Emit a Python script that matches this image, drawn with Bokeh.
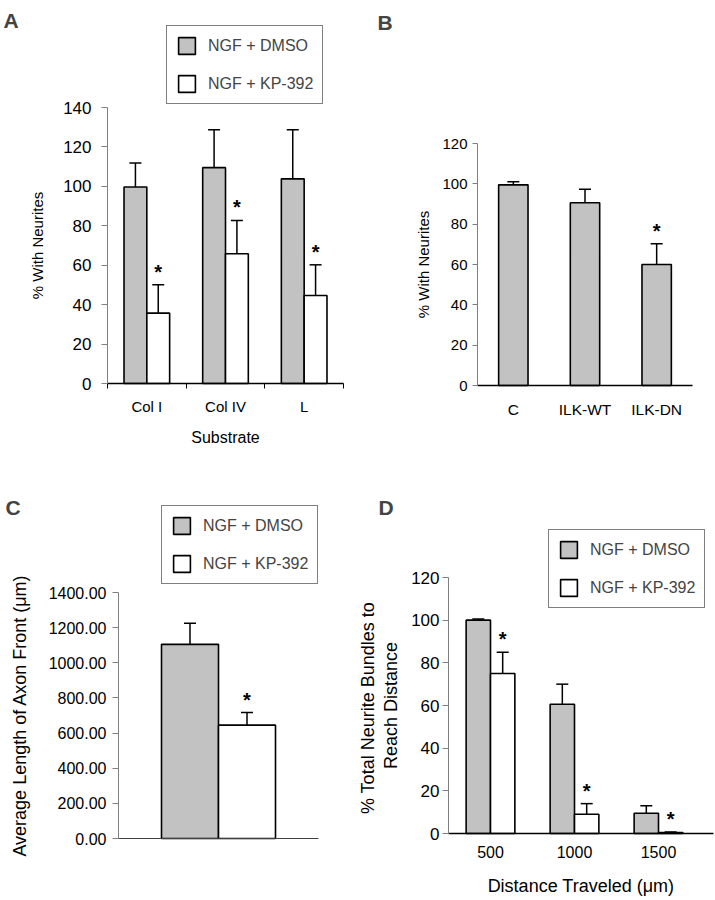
from bokeh.plotting import figure
from bokeh.models import (ColumnDataSource, Range1d, FixedTicker, Whisker, TeeHead,
                          Legend, LegendItem, Label, NumeralTickFormatter)
from bokeh.layouts import column, row
from bokeh.embed import file_html
from bokeh.resources import INLINE
from bokeh.core.properties import value

# ---------------- data ----------------
# Panel A
a_substrates = ["Col I", "Col IV", "L"]
a_dmso = [99.7, 109.5, 103.8]
a_dmso_err = [12.1, 19.2, 24.9]
a_kp = [35.7, 65.8, 44.6]
a_kp_err = [14.4, 16.9, 15.6]
a_yticks = [0, 20, 40, 60, 80, 100, 120, 140]

# Panel B
b_groups = ["C", "ILK-WT", "ILK-DN"]
b_vals = [99.5, 90.6, 60.0]
b_err = [1.5, 6.7, 10.3]
b_sig = [False, False, True]
b_yticks = [0, 20, 40, 60, 80, 100, 120]

# Panel C
c_dmso = [1105.0]
c_dmso_err = [120.0]
c_kp = [645.0]
c_kp_err = [72.0]
c_yticks = [0, 200, 400, 600, 800, 1000, 1200, 1400]

# Panel D
d_distances = ["500", "1000", "1500"]
d_dmso = [100.0, 60.6, 9.5]
d_dmso_err = [0.5, 9.4, 3.5]
d_kp = [75.0, 9.0, 0.5]
d_kp_err = [10.0, 5.0, 0.2]
d_yticks = [0, 20, 40, 60, 80, 100, 120]

legend_labels = ["NGF + DMSO", "NGF + KP-392"]

FONT = "Liberation Sans"
GRAY = "#c2c2c2"


def make_fig(w, h, box, xlim, ylim):
    """box = (left, right, top, bottom) of the plotting area in figure pixels;
    the frame covers the whole figure and the ranges are widened to match."""
    left, right, top, bottom = box
    x0, x1 = xlim
    y0, y1 = ylim
    sx = (x1 - x0) / (right - left)
    sy = (y1 - y0) / (bottom - top)
    xr = Range1d(x0 - left * sx, x1 + (w - right) * sx)
    yr = Range1d(y0 - (h - bottom) * sy, y1 + top * sy)
    p = figure(width=w, height=h, x_range=xr, y_range=yr, title=None,
               output_backend="svg", toolbar_location=None,
               min_border=0, min_border_left=0, min_border_right=0,
               min_border_top=0, min_border_bottom=0)
    p.xgrid.visible = False
    p.ygrid.visible = False
    p.outline_line_color = None
    p.background_fill_color = "white"
    p.border_fill_color = "white"
    for ax in (p.xaxis[0], p.yaxis[0]):
        ax.major_label_text_font = FONT
        ax.axis_label_text_font = FONT
        ax.axis_label_text_font_style = "normal"
        ax.major_label_text_color = "black"
        ax.axis_label_text_color = "black"
        ax.minor_tick_line_color = None
        ax.major_tick_in = 0
    ya = p.yaxis[0]
    ya.fixed_location = x0
    ya.bounds = (y0, y1)
    ya.axis_line_color = "#808080"
    ya.major_tick_line_color = "#808080"
    ya.major_tick_out = 6
    ya.major_label_standoff = 4
    xa = p.xaxis[0]
    xa.fixed_location = y0
    xa.bounds = (x0, x1)
    xa.axis_line_color = "black"
    xa.axis_line_width = 1.5
    xa.major_tick_out = 0
    xa.major_tick_line_color = None
    return p


def bars(p, xc, vals, errs, color, w):
    src = ColumnDataSource(dict(x=xc, top=vals, upper=[v + e for v, e in zip(vals, errs)]))
    r = p.vbar(x="x", top="top", bottom=0, width=w, source=src,
               fill_color=color, line_color="black", line_width=1.6)
    wh = Whisker(base="x", lower="top", upper="upper", source=src,
                 lower_head=None, line_color="black", line_width=1.5,
                 upper_head=TeeHead(size=12, line_color="black", line_width=1.5),
                 level="glyph")
    p.add_layout(wh)
    return r


def stars(p, xs, ys):
    p.text(x=xs, y=ys, text=["*"] * len(xs), text_font=value(FONT),
           text_font_style="bold", text_font_size="20px", text_align="center",
           text_baseline="alphabetic", y_offset=-13, text_color="black")


def add_legend(p, r1, r2, loc):
    lg = Legend(items=[LegendItem(label=legend_labels[0], renderers=[r1]),
                       LegendItem(label=legend_labels[1], renderers=[r2])],
                location=loc, glyph_width=21, glyph_height=21, padding=9,
                spacing=17, label_standoff=11, margin=0,
                border_line_color="black", border_line_width=1.5,
                label_text_font=FONT, label_text_font_size="16px",
                background_fill_alpha=1.0)
    p.add_layout(lg, "center")


def letter(p, txt, x, y):
    p.add_layout(Label(x=x, y=y, x_units="screen", y_units="screen", text=txt,
                       text_font=FONT, text_font_style="bold", text_font_size="21px",
                       text_baseline="alphabetic"))


# ---------------- Panel A ----------------
pA = make_fig(357, 450, (107, 343, 107, 383), (0, 3), (0, 140))
wA = 0.29
xcA = [i + 0.5 for i in range(len(a_substrates))]
rA1 = bars(pA, [x - wA / 2 for x in xcA], a_dmso, a_dmso_err, GRAY, wA)
rA2 = bars(pA, [x + wA / 2 for x in xcA], a_kp, a_kp_err, "white", wA)
stars(pA, [x + wA / 2 for x in xcA], [v + e for v, e in zip(a_kp, a_kp_err)])
pA.yaxis.ticker = FixedTicker(ticks=a_yticks)
pA.yaxis.major_label_text_font_size = "17px"
pA.yaxis.major_label_standoff = 10
pA.yaxis.axis_label = "% With Neurites"
pA.yaxis.axis_label_text_font_size = "15px"
pA.yaxis.axis_label_standoff = 14
pA.xaxis.ticker = FixedTicker(ticks=xcA, minor_ticks=list(range(len(a_substrates) + 1)))
pA.xaxis.minor_tick_line_color = "black"
pA.xaxis.minor_tick_out = 5
pA.xaxis.minor_tick_in = 0
pA.xaxis.major_label_overrides = {x: s for x, s in zip(xcA, a_substrates)}
pA.xaxis.major_label_text_font_size = "15px"
pA.xaxis.major_label_standoff = 9
pA.xaxis.axis_label = "Substrate"
pA.xaxis.axis_label_text_font_size = "16px"
pA.xaxis.axis_label_standoff = 11
add_legend(pA, rA1, rA2, (166, 346))
letter(pA, "A", 3, 430)

# ---------------- Panel B ----------------
pB = make_fig(358, 450, (120, 335, 143, 385), (0, 3), (0, 120))
wB = 0.41
xcB = [i + 0.5 for i in range(len(b_groups))]
bars(pB, xcB, b_vals, b_err, GRAY, wB)
sig_x = [x for x, s in zip(xcB, b_sig) if s]
sig_y = [v + e for v, e, s in zip(b_vals, b_err, b_sig) if s]
stars(pB, sig_x, sig_y)
pB.yaxis.ticker = FixedTicker(ticks=b_yticks)
pB.yaxis.major_tick_out = 5
pB.yaxis.major_label_text_font_size = "15px"
pB.yaxis.major_label_standoff = 5
pB.yaxis.axis_label = "% With Neurites"
pB.yaxis.axis_label_text_font_size = "15px"
pB.yaxis.axis_label_standoff = 7
pB.xaxis.ticker = FixedTicker(ticks=xcB)
pB.xaxis.major_label_overrides = {x: s for x, s in zip(xcB, b_groups)}
pB.xaxis.major_label_text_font_size = "15.5px"
pB.xaxis.major_label_standoff = 15
letter(pB, "B", 20, 428)

# ---------------- Panel C ----------------
pC = make_fig(357, 450, (118, 318, 142, 388), (0, 1), (0, 1400))
wC = 0.285
rC1 = bars(pC, [0.5 - wC / 2], c_dmso, c_dmso_err, GRAY, wC)
rC2 = bars(pC, [0.5 + wC / 2], c_kp, c_kp_err, "white", wC)
stars(pC, [0.5 + wC / 2], [c_kp[0] + c_kp_err[0]])
pC.yaxis.ticker = FixedTicker(ticks=c_yticks)
pC.yaxis.formatter = NumeralTickFormatter(format="0.00")
pC.yaxis.major_label_text_font_size = "16px"
pC.yaxis.major_label_standoff = 6
pC.yaxis.axis_label = "Average Length of Axon Front (\u03bcm)"
pC.yaxis.axis_label_text_font_size = "18px"
pC.yaxis.axis_label_standoff = 16
pC.xaxis.ticker = FixedTicker(ticks=[])
pC.xaxis.axis_line_color = "#404040"
pC.xaxis.axis_line_width = 1.2
add_legend(pC, rC1, rC2, (161, 316))
letter(pC, "C", 5, 393)

# ---------------- Panel D ----------------
pD = make_fig(358, 450, (91, 343, 127, 383), (0, 3), (0, 120))
pD.xaxis.bounds = (0, 3.155)
wD = 0.29
xcD = [i + 0.5 for i in range(len(d_distances))]
rD1 = bars(pD, [x - wD / 2 for x in xcD], d_dmso, d_dmso_err, GRAY, wD)
rD2 = bars(pD, [x + wD / 2 for x in xcD], d_kp, d_kp_err, "white", wD)
stars(pD, [x + wD / 2 for x in xcD], [v + e for v, e in zip(d_kp, d_kp_err)])
pD.yaxis.ticker = FixedTicker(ticks=d_yticks)
pD.yaxis.major_label_text_font_size = "17px"
pD.yaxis.major_label_standoff = 3
pD.yaxis.axis_label = "%  Total Neurite Bundles to\nReach Distance"
pD.yaxis.axis_label_text_font_size = "18px"
pD.yaxis.axis_label_text_line_height = 1.15
pD.yaxis.axis_label_standoff = 7
pD.xaxis.ticker = FixedTicker(ticks=xcD)
pD.xaxis.major_label_overrides = {x: s for x, s in zip(xcD, d_distances)}
pD.xaxis.major_label_text_font_size = "16px"
pD.xaxis.major_label_standoff = 12
pD.xaxis.axis_label = "Distance Traveled (\u03bcm)"
pD.xaxis.axis_label_text_font_size = "18px"
pD.xaxis.axis_label_standoff = 15
add_legend(pD, rD1, rD2, (191, 292))
letter(pD, "D", 21, 393)

layout = column(row(pA, pB), row(pC, pD))
open("out.html", "w").write(file_html(layout, INLINE))
